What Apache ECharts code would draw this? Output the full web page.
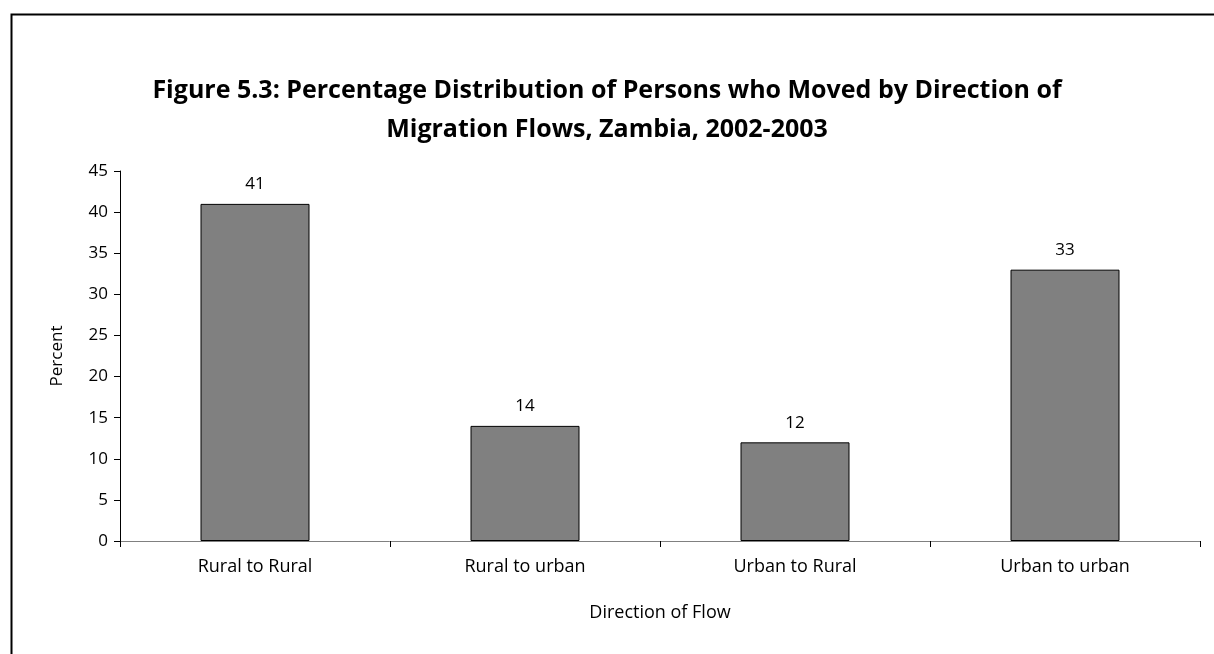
<!DOCTYPE html>
<html><head><meta charset="utf-8">
<script src="https://cdn.jsdelivr.net/npm/echarts@6/dist/echarts.min.js"></script>
<style>html,body{margin:0;padding:0;background:#fff}#c{width:1214px;height:654px}</style>
</head><body><div id="c"></div>
<script>
const categories = ["Rural to Rural", "Rural to urban", "Urban to Rural", "Urban to urban"];
const percentValues = [41, 14, 12, 33];
const yTicks = [0, 5, 10, 15, 20, 25, 30, 35, 40, 45];
const titleText = "Figure 5.3: Percentage Distribution of Persons who Moved by Direction of\nMigration Flows, Zambia, 2002-2003";
const FONT = "'Open Sans', sans-serif";

const chart = echarts.init(document.getElementById('c'), null, {renderer: 'canvas'});
chart.setOption({
  animation: false,
  backgroundColor: '#fff',
  graphic: [{
    type: 'rect', left: 9, top: 12, shape: {width: 1300, height: 700},
    style: {fill: 'none', stroke: '#000', lineWidth: 2}, silent: true
  }],
  title: {
    text: titleText, left: 'center', top: 66,
    textStyle: {fontFamily: FONT, fontSize: 25, fontWeight: 'bold', color: '#000', lineHeight: 39}
  },
  grid: {left: 120, right: 14, top: 171, bottom: 113, containLabel: false},
  xAxis: {
    type: 'category', data: categories,
    name: 'Direction of Flow', nameLocation: 'middle', nameGap: 63,
    nameTextStyle: {fontFamily: FONT, fontSize: 18, color: '#000'},
    axisLine: {lineStyle: {color: '#808080', width: 1}},
    axisTick: {show: true, alignWithLabel: false, length: 6, lineStyle: {color: '#000'}},
    axisLabel: {fontFamily: FONT, fontSize: 18, color: '#000', margin: 17}
  },
  yAxis: {
    type: 'value', min: 0, max: 45, interval: 5,
    name: 'Percent', nameLocation: 'middle', nameGap: 54, nameRotate: 90,
    nameTextStyle: {fontFamily: FONT, fontSize: 17, color: '#000'},
    axisLine: {show: true, lineStyle: {color: '#000', width: 1}},
    axisTick: {show: true, length: 6, lineStyle: {color: '#000'}},
    axisLabel: {fontFamily: FONT, fontSize: 17, color: '#000', margin: 12,
      formatter: v => yTicks.includes(v) ? String(v) : ''},
    splitLine: {show: false}
  },
  series: [{
    type: 'bar', data: percentValues, barWidth: 109,
    itemStyle: {color: '#808080', borderColor: '#000', borderWidth: 1},
    label: {show: true, position: 'top', distance: 11, fontFamily: FONT, fontSize: 17, color: '#000'}
  }]
});
</script></body></html>
